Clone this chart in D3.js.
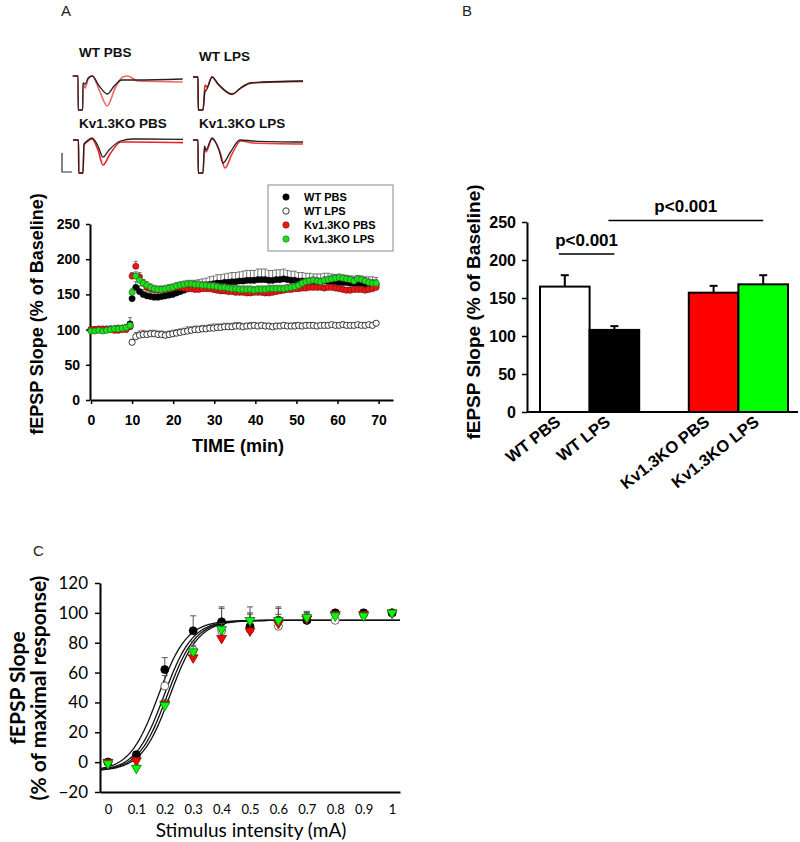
<!DOCTYPE html>
<html><head><meta charset="utf-8">
<script src="https://cdn.jsdelivr.net/npm/d3@7"></script>
<style>body{margin:0;background:#fff}</style>
</head><body>
<svg id="c" width="800" height="842"></svg>
<script>
// ================= DATA =================
// Panel A insets: representative traces [time ms, voltage mV]
const trWtPbsBlack = [[0,0],[1.06,0],[1.1,-1.7],[2.0,-1.7],[2.06,-0.35],[2.5,-0.4],[3.1,-0.1],[3.9,0],[5.3,-0.5],[6.9,-0.9],[8.3,-0.5],[9.8,-0.2],[12.5,-0.2],[22,-0.15]];
const trWtPbsRed   = [[0,0],[1.06,0],[1.1,-1.7],[2.0,-1.7],[2.06,-0.35],[2.5,-0.6],[3.1,-0.15],[3.9,0],[5.3,-0.7],[6.9,-1.5],[8.5,-0.6],[10,-0.05],[11,0.0],[13,-0.25],[22,-0.3]];
const trWtLpsBlack = [[0,0],[1.0,0],[1.05,-1.65],[2.0,-1.65],[2.4,-0.75],[2.8,-0.6],[3.8,0],[5,-0.35],[7.8,-0.85],[9.5,-0.55],[11.4,-0.3],[14,-0.25],[22,-0.2]];
const trWtLpsRed   = [[0,0],[1.0,0],[1.05,-1.65],[2.0,-1.65],[2.4,-0.4],[2.8,-0.5],[3.8,0],[5,-0.35],[7.8,-0.87],[9.5,-0.57],[11.4,-0.32],[14,-0.27],[22,-0.22]];
const trKoPbsBlack = [[0,0],[1.1,0],[1.15,-1.65],[2.0,-1.65],[2.2,-0.2],[2.8,-0.05],[3.8,0.1],[5,-0.3],[6.0,-0.85],[7.2,-0.5],[9.5,-0.05],[12,0.05],[22,0.03]];
const trKoPbsRed   = [[0,0],[1.1,0],[1.15,-1.65],[2.0,-1.65],[2.2,-0.25],[2.8,-0.1],[3.8,0.05],[5,-0.5],[6.0,-1.25],[7.4,-0.7],[9.6,-0.1],[12,-0.1],[22,-0.13]];
const trKoLpsBlack = [[0,0],[1.0,0],[1.05,-1.65],[2.0,-1.65],[2.3,-0.3],[2.6,-0.5],[3.8,0.1],[5.2,-0.5],[6.0,-1.15],[7.5,-0.6],[9.4,0],[12,-0.05],[22,-0.1]];
const trKoLpsRed   = [[0,0],[1.0,0],[1.05,-1.65],[2.0,-1.65],[2.3,-0.4],[2.6,-0.6],[3.8,0.05],[5.4,-0.6],[6.4,-1.4],[7.8,-0.7],[9.6,-0.05],[12,-0.15],[22,-0.2]];

// Panel A time course
const seriesNamesA = ["WT PBS","WT LPS","Kv1.3KO PBS","Kv1.3KO LPS"];
const baseTimes = d3.range(0, 10, 0.95);    // baseline sample times (min)
const postTimes = d3.range(10, 69.5, 0.9);  // post-HFS sample times (min)
const xTicksA = [0,10,20,30,40,50,60,70];
const yTicksA = [0,50,100,150,200,250];

const wtPbsBase = [99,100,100,100,100,101,101,102,102,103,108];
const wtPbsPost = [144,160,154,150,148,147,146,146,147,148,
  149,150,152,154,156,158,159,160,161,162,
  163,164,165,166,166,167,167,168,168,169,
  169,170,170,170,171,171,171,170,170,171,
  171,172,171,170,170,169,169,168,168,168,
  168,168,169,169,168,168,167,167,167,166,
  166,166,166,165,165,165,164];
const wtPbsBaseErr = [3,3,3,3,3,3,3,3,3,4,9];
const wtPbsPostErr = [6,8,8,7,7,6,6,6,6,6, 7,7,8,8,9,9,9,10,10,10,
  10,11,11,12,12,12,13,13,13,13, 14,14,14,14,15,15,15,14,14,14,
  14,14,13,13,13,12,12,12,12,11, 11,11,11,11,11,10,10,10,10,10,
  10,10,10,10,10,10,10];

const wtLpsBase = [100,100,100,100,101,101,101,102,102,103,104];
const wtLpsPost = [82,90,92,93,93,94,94,93,93,92,
  93,94,95,96,97,98,99,100,100,101,
  101,102,102,103,103,104,104,104,105,105,
  104,105,105,106,105,106,105,105,104,105,
  105,106,105,105,105,106,105,106,106,106,
  105,106,106,106,107,106,106,107,106,106,
  106,107,106,106,107,106,109];
const wtLpsBaseErr = [2,2,2,2,2,2,2,2,2,3,3];
const wtLpsPostErr = [4,6,6,6,5,5,5,5,5,5, 5,5,5,5,5,6,5,5,5,5,
  5,5,6,5,5,5,5,5,5,5, 4,4,5,4,4,4,4,4,4,4,
  4,4,4,4,5,4,4,4,4,4, 3,3,4,3,3,3,3,4,3,3,
  3,3,3,4,3,3,3];

const koPbsBase = [100,100,101,101,100,100,99,99,100,100,105];
const koPbsPost = [176,190,175,166,160,158,157,156,157,157,
  158,159,160,160,159,158,158,157,157,158,
  158,158,157,156,155,155,154,154,153,153,
  153,152,152,153,153,153,152,152,153,154,
  155,156,157,157,158,158,159,159,160,160,
  160,160,159,160,160,159,158,157,156,156,
  157,157,157,156,157,158,160];
const koPbsBaseErr = [2,2,2,2,2,2,2,2,2,3,4];
const koPbsPostErr = [5,7,6,5,5,4,4,4,4,4, 4,4,4,4,4,4,4,4,4,4,
  4,4,4,4,4,4,4,4,4,4, 4,4,4,4,4,4,4,4,4,4,
  4,4,4,4,4,4,4,4,4,4, 4,4,4,4,4,4,4,4,4,4,
  4,4,4,4,4,4,5];

const koLpsBase = [98,98,99,98,99,100,101,101,102,103,106];
const koLpsPost = [153,176,170,166,163,160,158,157,157,158,
  159,160,162,163,164,165,165,164,164,163,
  163,162,162,161,160,160,159,158,158,157,
  157,157,157,156,157,157,157,158,158,158,
  158,158,159,160,161,163,166,168,169,170,
  169,168,170,171,172,173,174,173,172,171,
  169,172,171,169,167,166,166];
const koLpsBaseErr = [2,2,2,2,2,2,2,2,2,3,4];
const koLpsPostErr = [5,6,6,5,5,5,5,5,5,5, 5,5,5,5,5,5,5,5,5,5,
  5,5,5,5,5,5,5,5,5,5, 5,5,5,5,5,5,5,5,5,5,
  5,5,5,5,5,5,5,5,5,5, 5,5,5,5,5,5,5,5,5,5,
  5,5,5,5,5,5,5];

// Panel B bar chart
const barCats = ["WT PBS","WT LPS","Kv1.3KO PBS","Kv1.3KO LPS"];
const barVals = [165,108,157,168];
const barErrs = [15,5,9,12];
const yTicksB = [0,50,100,150,200,250];
const sigPairs = [["WT PBS","WT LPS",208,"p<0.001"],["WT LPS","Kv1.3KO LPS",252,"p<0.001"]];

// Panel C input-output
const stimX = [0,0.1,0.2,0.3,0.4,0.5,0.6,0.7,0.8,0.9,1.0];
const ioWtPbs = [0,5,62,88,94,91,95,95,100,100,100];
const ioWtPbsErr = [1,2,8,10,10,9,8,5,2,2,0];
const ioWtLps = [0,3,51,75,88,89,91,95,95,99,100];
const ioWtLpsErr = [1,2,7,6,15,15,13,6,3,2,0];
const ioKoPbs = [0,1,39,70,83,88,93,96,99,99,100];
const ioKoPbsErr = [1,2,3,4,5,5,4,4,2,2,0];
const ioKoLps = [-1,-4,38,74,89,95,95,97,98,98,100];
const ioKoLpsErr = [1,2,3,4,4,4,4,3,2,2,0];
// Boltzmann fit parameters [bottom, top, x50, slope]
const fitWtPbs = [-6,95,0.177,0.05];
const fitWtLps = [-6,95,0.197,0.05];
const fitKoLps = [-6,95,0.208,0.05];
const fitKoPbs = [-6,95,0.218,0.05];
const xTicksC = [0,0.1,0.2,0.3,0.4,0.5,0.6,0.7,0.8,0.9,1];
const yTicksC = [-20,0,20,40,60,80,100,120];

// ================= DRAW =================
const svg = d3.select("#c");
const AF = "'Liberation Sans', Arial, sans-serif";
const CF = "Lato, 'Open Sans', sans-serif";

function styleAxis(g, fs, weight, family){
  g.select(".domain").attr("stroke","#000").attr("stroke-width",2);
  g.selectAll(".tick line").attr("stroke","#000").attr("stroke-width",1.5);
  g.selectAll(".tick text").attr("font-size",fs).attr("font-weight",weight).attr("font-family",family).attr("fill","#000");
}

// Panel letters
[["A",61,16],["B",462,16],["C",33,556]].forEach(d=>{
  svg.append("text").attr("x",d[1]).attr("y",d[2]).text(d[0])
    .attr("font-family",AF).attr("font-size",15).attr("fill","#222");
});

// ---- Insets ----
const tS = d3.scaleLinear().domain([0,22]).range([0,110]);
const vS = d3.scaleLinear().domain([0,-1]).range([0,20]);
const traceLine = d3.line().x(d=>tS(d[0])).y(d=>vS(d[1])).curve(d3.curveMonotoneX);
const insets = [
  {label:"WT PBS", lx:79, ly:57, ox:72.7, oy:76, black:trWtPbsBlack, red:trWtPbsRed, rc:"#f26464"},
  {label:"WT LPS", lx:199, ly:61, ox:193, oy:77, black:trWtLpsBlack, red:trWtLpsRed, rc:"#e41e1e"},
  {label:"Kv1.3KO PBS", lx:79, ly:128, ox:73, oy:140, black:trKoPbsBlack, red:trKoPbsRed, rc:"#ee2020"},
  {label:"Kv1.3KO LPS", lx:199, ly:128, ox:193, oy:140, black:trKoLpsBlack, red:trKoLpsRed, rc:"#f03a3a"}
];
insets.forEach(ins=>{
  svg.append("text").attr("x",ins.lx).attr("y",ins.ly).text(ins.label)
    .attr("font-family",AF).attr("font-weight","bold").attr("font-size",13.5).attr("fill","#111");
  const g = svg.append("g").attr("transform",`translate(${ins.ox},${ins.oy})`);
  g.append("path").attr("d",traceLine(ins.red)).attr("fill","none").attr("stroke",ins.rc).attr("stroke-width",1.6);
  g.append("path").attr("d",traceLine(ins.black)).attr("fill","none").attr("stroke","#222").attr("stroke-width",1.3);
});
// scale bar
svg.append("path").attr("d","M62,153V172H72").attr("fill","none").attr("stroke","#333").attr("stroke-width",1.2);

// ---- Panel A ----
const xA = d3.scaleLinear().domain([0,73.5]).range([91,393]);
const yA = d3.scaleLinear().domain([0,250]).range([400,224]);
const gA = svg.append("g");
const axAy = gA.append("g").attr("transform","translate(90,0)")
  .call(d3.axisLeft(yA).tickValues(yTicksA).tickSize(4).tickPadding(6).tickSizeOuter(0));
styleAxis(axAy,14,"bold",AF);
const axAx = gA.append("g").attr("transform","translate(0,400)")
  .call(d3.axisBottom(xA).tickValues(xTicksA).tickSize(4).tickPadding(11).tickSizeOuter(0));
styleAxis(axAx,14,"bold",AF);
gA.append("text").attr("x",238).attr("y",452).attr("text-anchor","middle").text("TIME (min)")
  .attr("font-family",AF).attr("font-weight","bold").attr("font-size",18);
gA.append("text").attr("transform","translate(43,314) rotate(-90)").attr("text-anchor","middle")
  .text("fEPSP Slope (% of Baseline)").attr("font-family",AF).attr("font-weight","bold").attr("font-size",18);

const times = baseTimes.concat(postTimes);
const seriesA = [
  {vals:wtPbsBase.concat(wtPbsPost), errs:wtPbsBaseErr.concat(wtPbsPostErr), fill:"#000", stroke:"#000", sw:0.6},
  {vals:wtLpsBase.concat(wtLpsPost), errs:wtLpsBaseErr.concat(wtLpsPostErr), fill:"#fff", stroke:"#222", sw:0.9},
  {vals:koPbsBase.concat(koPbsPost), errs:koPbsBaseErr.concat(koPbsPostErr), fill:"#e81818", stroke:"#7a0a0a", sw:0.6},
  {vals:koLpsBase.concat(koLpsPost), errs:koLpsBaseErr.concat(koLpsPostErr), fill:"#22dd22", stroke:"#0d6a0d", sw:0.6}
];
seriesA.forEach(s=>{
  const pts = times.map((t,i)=>({t, v:s.vals[i], e:s.errs[i]}));
  const ge = gA.append("g").attr("stroke","#555").attr("stroke-width",0.8);
  pts.forEach(p=>{
    ge.append("line").attr("x1",xA(p.t)).attr("x2",xA(p.t)).attr("y1",yA(p.v)).attr("y2",yA(p.v+p.e));
    ge.append("line").attr("x1",xA(p.t)-2).attr("x2",xA(p.t)+2).attr("y1",yA(p.v+p.e)).attr("y2",yA(p.v+p.e));
  });
  gA.append("g").selectAll("circle").data(pts).join("circle")
    .attr("cx",d=>xA(d.t)).attr("cy",d=>yA(d.v)).attr("r",3.1)
    .attr("fill",s.fill).attr("stroke",s.stroke).attr("stroke-width",s.sw);
});
// legend
const lg = gA.append("g");
lg.append("rect").attr("x",268).attr("y",185).attr("width",125).attr("height",66)
  .attr("fill","#fff").attr("stroke","#888").attr("stroke-width",1);
seriesNamesA.forEach((n,i)=>{
  const y = 197 + i*14;
  const s = seriesA[i];
  lg.append("circle").attr("cx",286).attr("cy",y).attr("r",3.2).attr("fill",s.fill).attr("stroke",s.stroke).attr("stroke-width",s.sw);
  lg.append("text").attr("x",304).attr("y",y+4).text(n).attr("font-family",AF).attr("font-weight","bold").attr("font-size",11);
});

// ---- Panel B ----
const xB = d3.scaleBand().domain(["WT PBS","WT LPS","gap","Kv1.3KO PBS","Kv1.3KO LPS"]).range([540,788]).padding(0);
const yB = d3.scaleLinear().domain([0,250]).range([412,222]);
const barColors = ["#fff","#000","#ff0000","#00ff00"];
const gB = svg.append("g");
const axBy = gB.append("g").attr("transform","translate(527,0)")
  .call(d3.axisLeft(yB).tickValues(yTicksB).tickSize(5).tickPadding(6).tickSizeOuter(0));
styleAxis(axBy,16,"bold",AF);
barCats.forEach((c,i)=>{
  const x = xB(c), w = xB.bandwidth(), cx = x + w/2;
  gB.append("line").attr("x1",cx).attr("x2",cx).attr("y1",yB(barVals[i])).attr("y2",yB(barVals[i]+barErrs[i]))
    .attr("stroke","#000").attr("stroke-width",2);
  gB.append("line").attr("x1",cx-4).attr("x2",cx+4).attr("y1",yB(barVals[i]+barErrs[i])).attr("y2",yB(barVals[i]+barErrs[i]))
    .attr("stroke","#000").attr("stroke-width",2);
  gB.append("rect").attr("x",x).attr("y",yB(barVals[i])).attr("width",w).attr("height",yB(0)-yB(barVals[i]))
    .attr("fill",barColors[i]).attr("stroke","#000").attr("stroke-width",2);
  gB.append("text").attr("transform",`translate(${cx-3},424) rotate(-38)`).attr("text-anchor","end").text(c)
    .attr("font-family",AF).attr("font-weight","bold").attr("font-size",16.5);
});
gB.append("line").attr("x1",527).attr("x2",798).attr("y1",yB(0)).attr("y2",yB(0)).attr("stroke","#000").attr("stroke-width",2);
sigPairs.forEach(sp=>{
  const x1 = xB(sp[0]) + xB.bandwidth()/2 - 6, x2 = xB(sp[1]) + xB.bandwidth()/2;
  gB.append("line").attr("x1",x1).attr("x2",x2).attr("y1",yB(sp[2])).attr("y2",yB(sp[2])).attr("stroke","#000").attr("stroke-width",1.5);
  gB.append("text").attr("x",(x1+x2)/2).attr("y",yB(sp[2])-8).attr("text-anchor","middle").text(sp[3])
    .attr("font-family",AF).attr("font-weight","bold").attr("font-size",17);
});
gB.append("text").attr("transform","translate(480,312) rotate(-90)").attr("text-anchor","middle")
  .text("fEPSP Slope (% of Baseline)").attr("font-family",AF).attr("font-weight","bold").attr("font-size",19);

// ---- Panel C ----
const xC = d3.scaleLinear().domain([-0.028,1.028]).range([100,400]);
const yC = d3.scaleLinear().domain([-20,120]).range([792,583]);
const gC = svg.append("g");
const axCy = gC.append("g").attr("transform","translate(100,0)")
  .call(d3.axisLeft(yC).tickValues(yTicksC).tickSize(5).tickPadding(7).tickSizeOuter(0));
styleAxis(axCy,17,"normal",CF);
const axCx = gC.append("g").attr("transform","translate(0,792)")
  .call(d3.axisBottom(xC).tickValues(xTicksC).tickFormat(d3.format("")).tickSize(0).tickPadding(13).tickSizeOuter(0));
styleAxis(axCx,13,"normal",CF);
gC.append("text").attr("x",251).attr("y",837).attr("text-anchor","middle").text("Stimulus intensity (mA)")
  .attr("font-family",CF).attr("font-size",19);
gC.append("text").attr("transform","translate(25,688) rotate(-90)").attr("text-anchor","middle")
  .text("fEPSP Slope").attr("font-family",CF).attr("font-weight","bold").attr("font-size",21);
gC.append("text").attr("transform","translate(46,688) rotate(-90)").attr("text-anchor","middle")
  .text("(% of maximal response)").attr("font-family",CF).attr("font-weight","bold").attr("font-size",21);

const boltz = (p,x)=> p[0] + (p[1]-p[0])/(1+Math.exp((p[2]-x)/p[3]));
const xs = d3.range(-0.028, 1.0281, 0.004);
const fitLine = d3.line().x(d=>xC(d[0])).y(d=>yC(d[1]));
[fitWtPbs,fitWtLps,fitKoLps,fitKoPbs].forEach(p=>{
  gC.append("path").attr("d",fitLine(xs.map(x=>[x,boltz(p,x)]))).attr("fill","none").attr("stroke","#111").attr("stroke-width",1.3);
});
const seriesC = [
  {v:ioWtLps, e:ioWtLpsErr, sym:"circle", fill:"#fff", stroke:"#444"},
  {v:ioWtPbs, e:ioWtPbsErr, sym:"circle", fill:"#000", stroke:"#000"},
  {v:ioKoPbs, e:ioKoPbsErr, sym:"tri", fill:"#ff0000", stroke:"#8a0000"},
  {v:ioKoLps, e:ioKoLpsErr, sym:"tri", fill:"#00ff00", stroke:"#0a7a0a"}
];
seriesC.forEach(s=>{
  const pts = stimX.map((x,i)=>({x, v:s.v[i], e:s.e[i]}));
  const ge = gC.append("g").attr("stroke","#555").attr("stroke-width",1);
  pts.forEach(p=>{
    if(p.e<=0) return;
    ge.append("line").attr("x1",xC(p.x)).attr("x2",xC(p.x)).attr("y1",yC(p.v)).attr("y2",yC(p.v+p.e));
    ge.append("line").attr("x1",xC(p.x)-3).attr("x2",xC(p.x)+3).attr("y1",yC(p.v+p.e)).attr("y2",yC(p.v+p.e));
  });
  const sym = s.sym==="circle" ? d3.symbol().type(d3.symbolCircle).size(50) : d3.symbol().type(d3.symbolTriangle).size(42);
  gC.append("g").selectAll("path").data(pts).join("path")
    .attr("d",sym())
    .attr("transform",d=>`translate(${xC(d.x)},${yC(d.v)})` + (s.sym==="tri" ? " rotate(180)" : ""))
    .attr("fill",s.fill).attr("stroke",s.stroke).attr("stroke-width",0.8);
});
</script>
</body></html>
